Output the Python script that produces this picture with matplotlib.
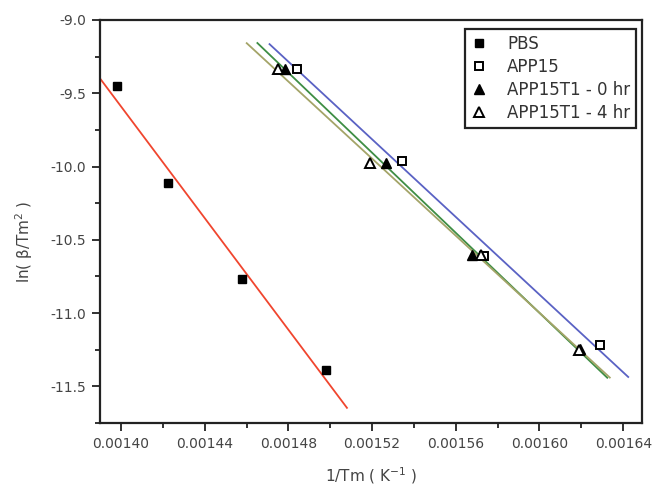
import numpy as np
import matplotlib
matplotlib.use("Agg")
import matplotlib.pyplot as plt
from matplotlib.ticker import MultipleLocator, FormatStrFormatter

# ---- data ----
pbs_x = [0.001398, 0.0014224, 0.001458, 0.001498]
pbs_y = [-9.452, -10.109, -10.766, -11.39]
pbs_fit_range = [0.00139, 0.001508]

app15_x = [0.0014843, 0.0015343, 0.0015733, 0.0016290]
app15_y = [-9.336, -9.959, -10.609, -11.219]
app15_fit_range = [0.001471, 0.0016424]

t0_x = [0.0014782, 0.0015268, 0.0015678, 0.0016195]
t0_y = [-9.334, -9.975, -10.603, -11.245]
t0_fit_range = [0.0014652, 0.0016324]

t4_x = [0.0014749, 0.0015192, 0.0015720, 0.0016188]
t4_y = [-9.334, -9.975, -10.603, -11.251]
t4_fit_range = [0.0014601, 0.0016336]

labels = ["PBS", "APP15", "APP15T1 - 0 hr", "APP15T1 - 4 hr"]
line_colors = ["#f0452e", "#5a62c4", "#3e8e44", "#a4a468"]

x_ticks = [0.00140, 0.00144, 0.00148, 0.00152, 0.00156, 0.00160, 0.00164]
y_ticks = [-9.0, -9.5, -10.0, -10.5, -11.0, -11.5]

plt.rcParams['font.family'] = ['DejaVu Sans']

fig = plt.figure(figsize=(6.52, 4.90), dpi=100)
ax = fig.add_axes([0.1534, 0.1367, 0.8313, 0.8225])

series = [
    (pbs_x, pbs_y, pbs_fit_range),
    (app15_x, app15_y, app15_fit_range),
    (t0_x, t0_y, t0_fit_range),
    (t4_x, t4_y, t4_fit_range),
]

# fit lines
for (xs, ys, rng), c in zip(series, line_colors):
    k, b = np.polyfit(xs, ys, 1)
    xx = np.array(rng)
    ax.plot(xx, k * xx + b, color=c, lw=1.3, zorder=2)

# markers
ax.plot(pbs_x, pbs_y, ls='none', marker='s', ms=6, mfc='black', mec='black', label=labels[0], zorder=4)
ax.plot(app15_x, app15_y, ls='none', marker='s', ms=5.5, mfc='white', mec='black', mew=1.4, label=labels[1], zorder=4)
ax.plot(t0_x, t0_y, ls='none', marker='^', ms=7, mfc='black', mec='black', label=labels[2], zorder=4)
ax.plot(t4_x, t4_y, ls='none', marker='^', ms=7, mfc='white', mec='black', mew=1.4, label=labels[3], zorder=5)

ax.set_xlim(0.00139, 0.001649)
ax.set_ylim(-11.75, -9.0)
ax.set_xticks(x_ticks)
ax.set_yticks(y_ticks)
ax.xaxis.set_minor_locator(MultipleLocator(0.00002))
ax.yaxis.set_minor_locator(MultipleLocator(0.25))
ax.xaxis.set_major_formatter(FormatStrFormatter('%.5f'))
ax.yaxis.set_major_formatter(FormatStrFormatter('%.1f'))

ax.tick_params(which='major', direction='out', length=6, width=1.3, labelsize=10,
               colors='#222222', labelcolor='#444444', pad=4)
ax.tick_params(which='minor', direction='out', length=3.5, width=1.3, colors='#222222')
ax.tick_params(top=False, right=False)
for s in ax.spines.values():
    s.set_linewidth(1.6)
    s.set_color('#222222')

ax.set_xlabel("1/Tm ( K$^{-1}$ )", fontsize=11, color='#444444')
ax.xaxis.set_label_coords(0.5, -0.105)
ax.set_ylabel("ln( \u03b2/Tm$^{2}$ )", fontsize=11, color='#444444')
ax.yaxis.set_label_coords(-0.12, 0.45)

leg = ax.legend(loc='upper right', bbox_to_anchor=(0.989, 0.977), fontsize=12,
                frameon=True, fancybox=False, edgecolor='#222222', framealpha=1,
                handlelength=1.0, handletextpad=1.2, labelspacing=0.3,
                borderpad=0.35, borderaxespad=0.0)
leg.get_frame().set_linewidth(1.6)
for t in leg.get_texts():
    t.set_color('#333333')

fig.savefig("out.png", dpi=100)
